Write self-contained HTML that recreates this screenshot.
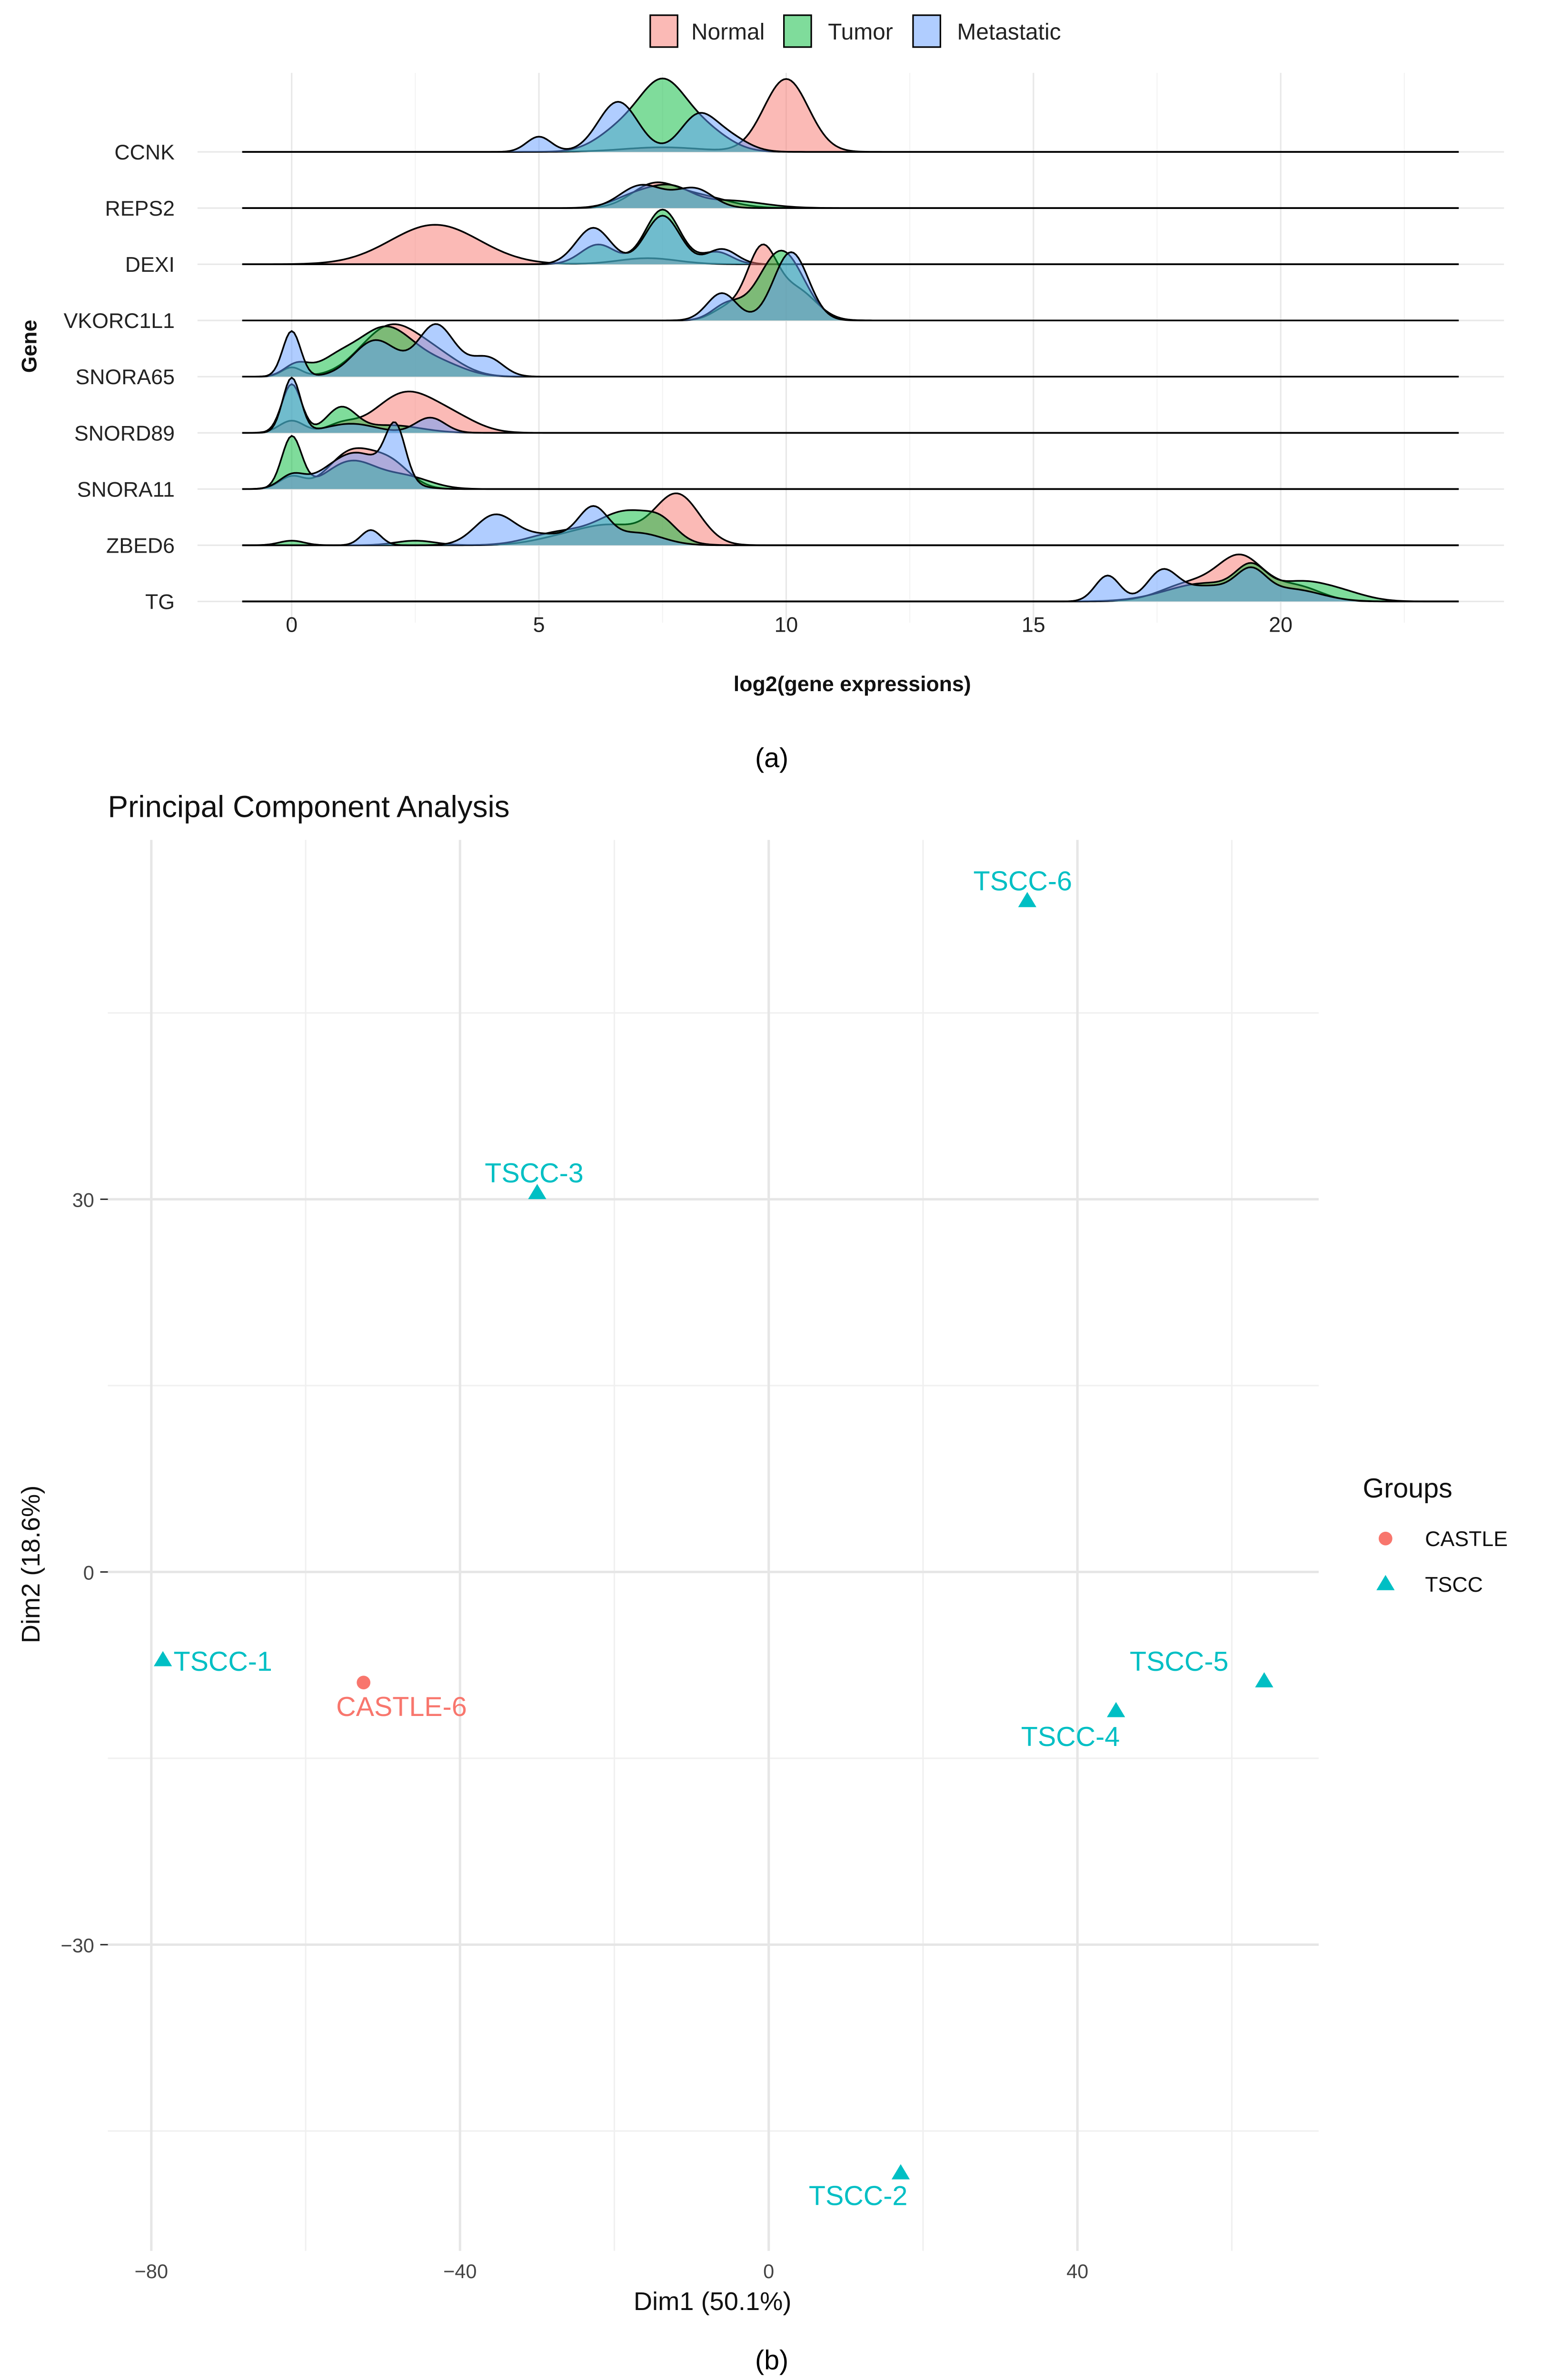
<!DOCTYPE html>
<html><head><meta charset="utf-8">
<style>
html,body{margin:0;padding:0;background:#fff;width:3239px;height:5035px;overflow:hidden;position:relative;}
svg{display:block;position:absolute;left:0;top:0;overflow:hidden;max-height:5035px;max-width:3239px;}
text{font-family:"Liberation Sans",sans-serif;}
</style></head>
<body>
<svg id="root" width="3239" height="5035" viewBox="0 0 1015 1578" preserveAspectRatio="none" xmlns="http://www.w3.org/2000/svg">
<g id="ridge"></g>
<g id="pca"></g>
</svg>
<script>
// ---------- Ridgeline data ----------
const genes = ["CCNK","REPS2","DEXI","VKORC1L1","SNORA65","SNORD89","SNORA11","ZBED6","TG"];
const groups = ["Normal","Tumor","Metastatic"];
const xTicks = [0,5,10,15,20];
// density components per gene: [center, sd, height]
const normalPeaks = [
 [[10,.45,48],[7.5,.8,3]],
 [[7.3,.45,14],[8.2,.6,8]],
 [[2.9,.9,26],[7.2,.6,4]],
 [[9.5,.3,45],[10.2,.4,20],[8.8,.3,8]],
 [[2.0,.6,33],[0,.2,6],[3,.5,10]],
 [[2.3,.6,26],[0,.25,8],[3.3,.5,8],[1,.3,5]],
 [[1.2,.45,24],[2.0,.4,16],[0,.25,8]],
 [[7.8,.45,33],[6.5,.6,12],[5.5,.6,5]],
 [[19.2,.45,27],[18.2,.6,12],[20.3,.5,10]]
];
const tumorPeaks = [
 [[7.5,.45,40],[6.7,.5,15],[8.3,.5,15]],
 [[7.0,.45,9],[7.7,.4,11],[8.8,.7,5]],
 [[7.5,.35,36],[6.2,.35,13],[8.6,.3,8]],
 [[9.9,.45,46],[8.8,.3,10]],
 [[1.9,.55,32],[0.9,.4,10],[0.1,.25,8],[3,.5,8]],
 [[0,.2,32],[1.0,.3,16],[2,.6,5]],
 [[0,.2,34],[1.2,.5,18],[2.3,.5,8]],
 [[6.8,.6,22],[5.4,.6,8],[0,.25,3],[2.5,.4,3],[7.5,.3,8]],
 [[19.4,.3,16],[18.5,.8,12],[20.4,.6,12],[21.3,.5,4]]
];
const metastaticPeaks = [
 [[5.0,.25,10],[6.6,.4,33],[8.2,.35,22],[8.8,.4,10]],
 [[7.0,.4,12],[8.2,.35,10],[7.6,.5,6]],
 [[6.1,.35,24],[7.5,.35,32],[8.7,.3,10]],
 [[10.1,.35,45],[8.7,.3,18]],
 [[0,.18,30],[1.7,.45,24],[2.9,.35,32],[4.0,.3,10],[3.5,.4,6]],
 [[0,.18,36],[2.8,.3,10],[1.2,.5,6]],
 [[2.1,.2,34],[1.3,.6,24],[0,.25,8]],
 [[1.6,.2,10],[4.1,.4,19],[6.1,.3,22],[5.2,.6,7],[7,.5,8]],
 [[16.5,.25,17],[17.6,.3,18],[19.4,.3,16],[18.5,.6,10],[20.2,.6,8]]
];
// ---------- PCA data ----------
const sampleNames = ["TSCC-6","TSCC-3","TSCC-1","CASTLE-6","TSCC-5","TSCC-4","TSCC-2"];
const sampleGroup = ["TSCC","TSCC","TSCC","CASTLE","TSCC","TSCC","TSCC"];
const dim1 = [33.5,-30,-78.5,-52.5,64.2,45,17.1];
const dim2 = [54,30.5,-7.1,-8.9,-8.8,-11.2,-48.4];
const dim1Ticks = [-80,-40,0,40];
const dim2Ticks = [30,0,-30];

const NS="http://www.w3.org/2000/svg";
function mk(tag,attrs,parent,txt){const e=document.createElementNS(NS,tag);for(const k in attrs)e.setAttribute(k,attrs[k]);if(txt!==undefined)e.textContent=txt;parent.appendChild(e);return e;}

// ===== Ridgeline =====
const R=document.getElementById('ridge');
const rx=v=>192+v*32.55;
const ry=i=>100+i*37;
const xMin=-1,xMax=23.6;
for(let v=-2.5;v<=25;v+=2.5){
  const x=rx(v); if(x<130||x>990) continue;
  const major=(v%5===0);
  const g=mk('line',{x1:x,x2:x,y1:48,y2:410,stroke:major?'#e8e8e8':'#f2f2f2','stroke-width':major?1:0.6},R);
  
  
}
genes.forEach((g,i)=>{
  const l=mk('line',{x1:130,x2:990,y1:ry(i),y2:ry(i),stroke:'#e8e8e8','stroke-width':1},R);
  
  
});
const colors=['#F8766D','#00BA38','#619CFF'];
const allPeaks=[normalPeaks,tumorPeaks,metastaticPeaks];
function dens(peaks,x){let s=0;for(const p of peaks){s+=p[2]*Math.exp(-0.5*((x-p[0])/p[1])**2);}return s;}
genes.forEach((gene,i)=>{
  const grp=mk('g',{},R);
  
  
  allPeaks.forEach((arr,k)=>{
    const peaks=arr[i];
    let d='M'+rx(xMin)+','+ry(i);
    let top='';
    for(let x=xMin;x<=xMax+1e-9;x+=0.05){
      const y=ry(i)-dens(peaks,x);
      d+=' L'+rx(x).toFixed(2)+','+y.toFixed(2);
      top+=(top?' L':'M')+rx(x).toFixed(2)+','+y.toFixed(2);
    }
    d+=' L'+rx(xMax)+','+ry(i)+' Z';
    const a=mk('path',{d:d,fill:colors[k],'fill-opacity':0.5,stroke:'none'},grp);
    
    
    const o=mk('path',{d:top,fill:'none',stroke:'#000','stroke-width':1.1},grp);
    
    
  });
  const t=mk('text',{x:115,y:ry(i)+5,'text-anchor':'end','font-size':14,fill:'#222'},R,gene);
  
  
});
xTicks.forEach(v=>{
  const t=mk('text',{x:rx(v),y:416,'text-anchor':'middle','font-size':14,fill:'#222'},R,String(v));
  
  
});
{
const t=mk('text',{x:561,y:455,'text-anchor':'middle','font-size':14,'font-weight':'bold',fill:'#111'},R,'log2(gene expressions)');


const t2=mk('text',{x:0,y:0,'text-anchor':'middle','font-size':14,'font-weight':'bold',fill:'#111',transform:'translate(24,228) rotate(-90)'},R,'Gene');


const lg=mk('g',{},R);


const lx=[428,516,601], tx=[455,545,630];
groups.forEach((gname,k)=>{
  const r=mk('rect',{x:lx[k],y:10,width:18,height:21,fill:colors[k],'fill-opacity':0.5,stroke:'#000','stroke-width':1},lg);
  
  
  const t=mk('text',{x:tx[k],y:26,'font-size':15,fill:'#222'},lg,gname);
  
  
});
const c=mk('text',{x:508,y:505,'text-anchor':'middle','font-size':18,'font-family':'Liberation Serif, serif',fill:'#000'},R,'(a)');


}

// ===== PCA =====
const P=document.getElementById('pca');
const px=v=>506+v*5.08;
const py=v=>1035-v*8.18;
const PX0=71,PX1=868,PY0=553,PY1=1482;
[-60,-20,20,60].forEach(v=>{const l=mk('line',{x1:px(v),x2:px(v),y1:PY0,y2:PY1,stroke:'#f0f0f0','stroke-width':1},P);});
[45,15,-15,-45].forEach(v=>{const l=mk('line',{x1:PX0,x2:PX1,y1:py(v),y2:py(v),stroke:'#f0f0f0','stroke-width':1},P);});
dim1Ticks.forEach(v=>{
  const l=mk('line',{x1:px(v),x2:px(v),y1:PY0,y2:PY1,stroke:'#e6e6e6','stroke-width':1.6},P);
  
  
  const t=mk('text',{x:px(v),y:1500,'text-anchor':'middle','font-size':13,fill:'#444'},P,v<0?'\u2212'+Math.abs(v):String(v));
  
  
});
dim2Ticks.forEach(v=>{
  const l=mk('line',{x1:PX0,x2:PX1,y1:py(v),y2:py(v),stroke:'#e6e6e6','stroke-width':1.6},P);
  
  
  const tk=mk('line',{x1:66,x2:71,y1:py(v),y2:py(v),stroke:'#333','stroke-width':1},P);
  
  
  const t=mk('text',{x:62,y:py(v)+5,'text-anchor':'end','font-size':13,fill:'#444'},P,v<0?'\u2212'+Math.abs(v):String(v));
  
  
});
const gcol={CASTLE:'#F8766D',TSCC:'#00BFC4'};
const labDx=[-3,-2,7,25,-56,-30,-28];
const labDy=[-7,-7,7,22,-7,23,21];
const labAnchor=['middle','middle','start','middle','middle','middle','middle'];
function marker(g,x,y,parent){
  if(g==='CASTLE') return mk('circle',{cx:x,cy:y,r:4.5,fill:gcol[g]},parent);
  return mk('path',{d:`M${x},${y-6} L${x+6},${y+4} L${x-6},${y+4} Z`,fill:gcol[g]},parent);
}
sampleNames.forEach((n,i)=>{
  const x=px(dim1[i]),y=py(dim2[i]);
  const m=marker(sampleGroup[i],x,y,P);
  
  
  const t=mk('text',{x:x+labDx[i],y:y+labDy[i],'text-anchor':labAnchor[i],'font-size':18,fill:gcol[sampleGroup[i]]},P,n);
  
  
});
{
const t=mk('text',{x:71,y:538,'font-size':20,fill:'#111'},P,'Principal Component Analysis');


const xa=mk('text',{x:469,y:1521,'text-anchor':'middle','font-size':17,fill:'#111'},P,'Dim1 (50.1%)');


const ya=mk('text',{x:0,y:0,'text-anchor':'middle','font-size':17,fill:'#111',transform:'translate(26,1030) rotate(-90)'},P,'Dim2 (18.6%)');


const lg=mk('g',{},P);


const lt=mk('text',{x:897,y:986,'font-size':18,fill:'#111'},lg,'Groups');


['CASTLE','TSCC'].forEach((g,k)=>{
  const y=1013+k*30;
  const m=marker(g,912,y,lg);
  
  
  const t=mk('text',{x:938,y:y+5,'font-size':14,fill:'#111'},lg,g);
  
  
});
const c=mk('text',{x:508,y:1560,'text-anchor':'middle','font-size':18,'font-family':'Liberation Serif, serif',fill:'#000'},P,'(b)');


}
</script>
</body></html>
